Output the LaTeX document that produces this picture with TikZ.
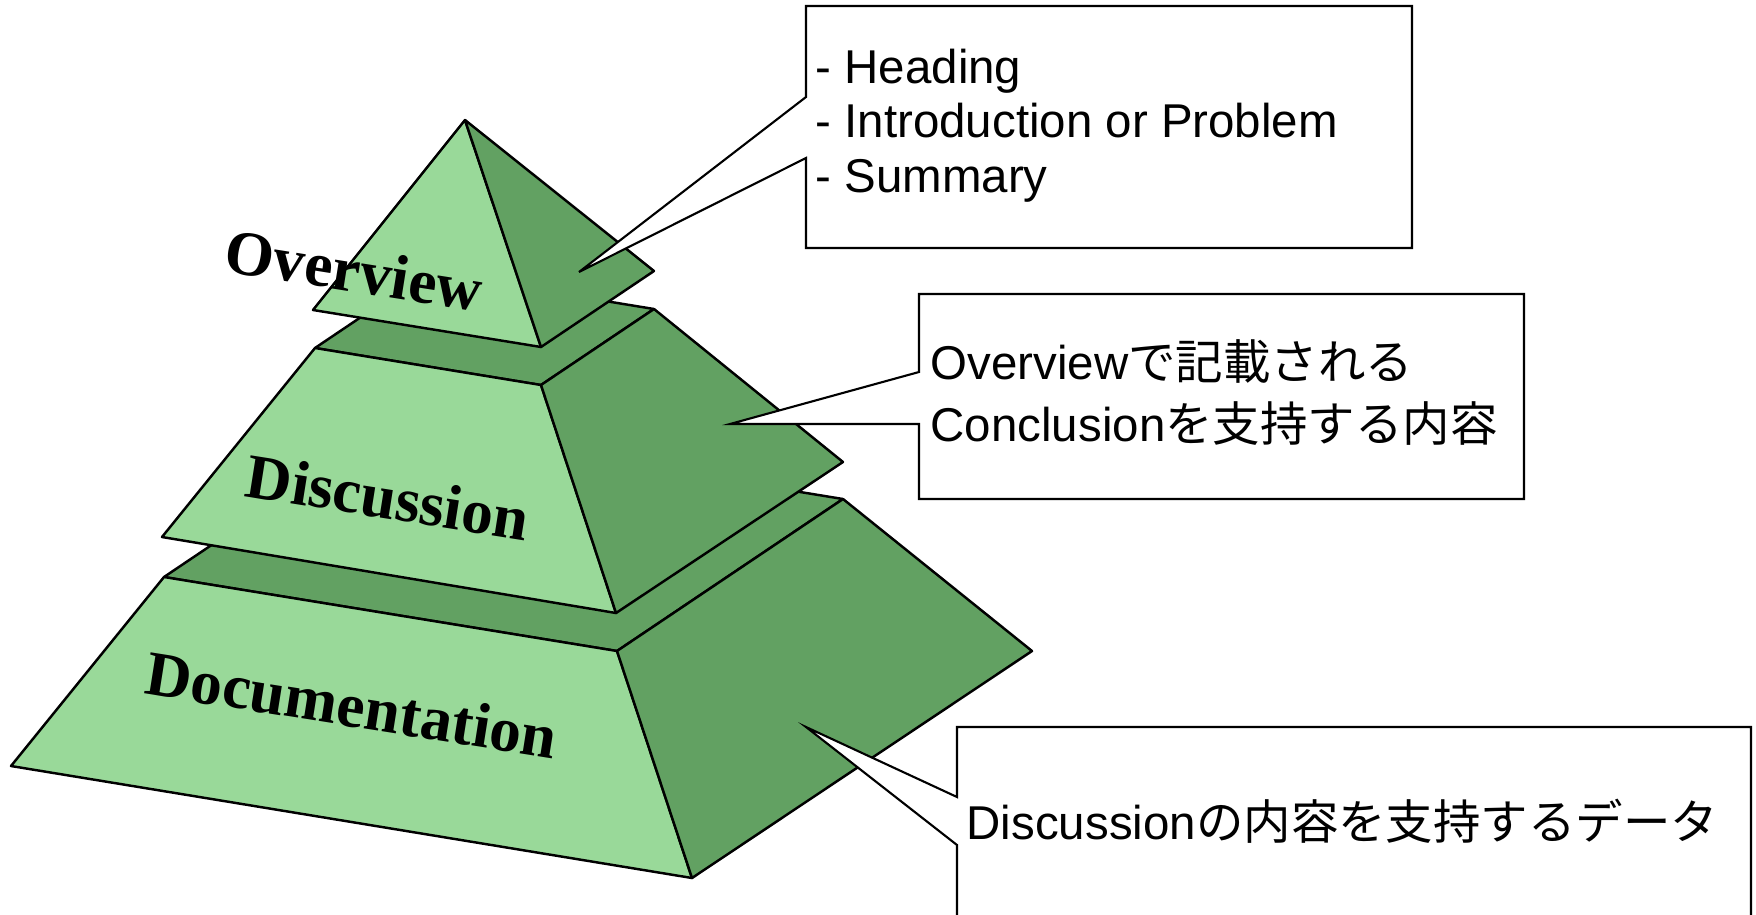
\documentclass[tikz,border=0pt]{standalone}
\usepackage{fontspec}
\setmainfont{Liberation Sans}
\newfontfamily\labelfont{Liberation Serif}
\newfontfamily\jp{Noto Sans CJK JP}
\usepackage{tikz}

\definecolor{faceL}{RGB}{153,217,153}
\definecolor{faceD}{RGB}{98,161,98}

\tikzset{
  lit/.style={fill=faceL, draw=black, line width=0.7pt, line join=round},
  shade/.style={fill=faceD, draw=black, line width=0.7pt, line join=round},
  tier/.style={font=\labelfont\bfseries\fontsize{18}{20}\selectfont, rotate=-9, inner sep=0pt},
  balloon/.style={fill=white, draw=black, line width=0.6pt},
  memo/.style={font=\fontsize{13.5}{15.4}\selectfont, align=left, anchor=base west, inner sep=0pt},
}

\begin{document}
\begin{tikzpicture}

\clip (0,0) rectangle (17.56,9.14);

% bottom block
\filldraw[shade] (1.64,3.37) -- (6.17,2.63) -- (8.43,4.15) -- (3.90,4.89) -- cycle;
\filldraw[lit]   (1.64,3.37) -- (6.17,2.63) -- (6.92,0.36) -- (0.11,1.48) -- cycle;
\filldraw[shade] (6.17,2.63) -- (8.43,4.15) -- (10.32,2.63) -- (6.92,0.36) -- cycle;

% middle block
\filldraw[shade] (3.15,5.66) -- (5.41,5.29) -- (6.54,6.05) -- (4.28,6.42) -- cycle;
\filldraw[lit]   (3.15,5.66) -- (5.41,5.29) -- (6.16,3.01) -- (1.62,3.77) -- cycle;
\filldraw[shade] (5.41,5.29) -- (6.54,6.05) -- (8.43,4.52) -- (6.16,3.01) -- cycle;

% top block
\filldraw[lit]   (4.65,7.94) -- (3.13,6.04) -- (5.41,5.67) -- cycle;
\filldraw[shade] (4.65,7.94) -- (5.41,5.67) -- (6.54,6.43) -- cycle;

\node[tier] (overview) at (3.54,6.44) {Overview};
\node[tier] (discussion) at (3.88,4.17) {Discussion};
\node[tier] (documentation) at (3.52,2.09) {Documentation};

% balloons
\coordinate (tipA) at (5.79,6.42);
\coordinate (tipB) at (7.30,4.90);
\coordinate (tipC) at (8.06,1.87);

\filldraw[balloon] (8.06,9.08) -- (14.12,9.08) -- (14.12,6.66) -- (8.06,6.66)
  -- (8.06,7.56) -- (tipA) -- (8.06,8.17) -- cycle;
\filldraw[balloon] (9.19,6.20) -- (15.24,6.20) -- (15.24,4.15) -- (9.19,4.15)
  -- (9.19,4.90) -- (tipB) -- (9.19,5.42) -- cycle;
\filldraw[balloon] (9.57,1.87) -- (17.51,1.87) -- (17.51,-0.30) -- (9.57,-0.30)
  -- (9.57,0.69) -- (tipC) -- (9.57,1.17) -- cycle;

% base anchor sits on the last line
\node[memo] (topics) at (8.15,7.22)
  {- Heading\\- Introduction or Problem\\- Summary};
\node[memo, font=\fontsize{13.5}{17.4}\selectfont] (support) at (9.30,4.73)
  {Overview{\jp で記載される}\\Conclusion{\jp を支持する内容}};
\node[memo] (data) at (9.66,0.75)
  {Discussion{\jp の内容を支持するデータ}};

\end{tikzpicture}
\end{document}
